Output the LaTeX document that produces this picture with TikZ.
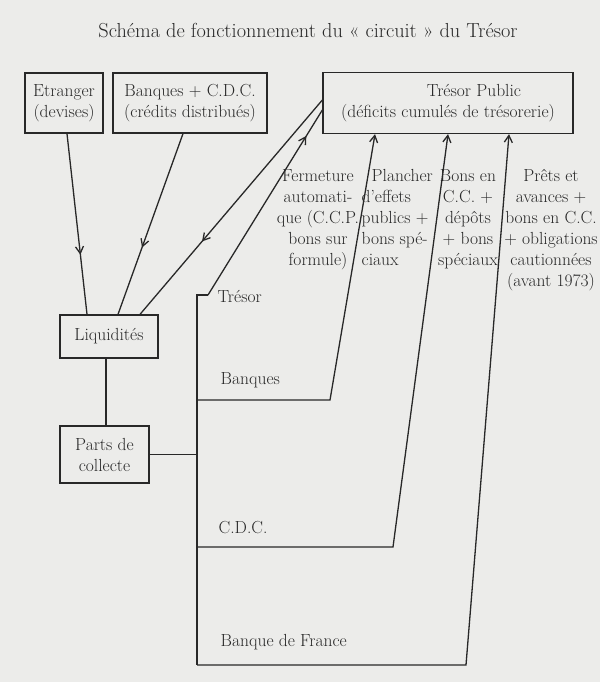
\documentclass[tikz,border=0pt]{standalone}
\usepackage{fontspec}
\usetikzlibrary{arrows.meta,decorations.markings}
\definecolor{paper}{RGB}{236,236,234}
\definecolor{ink}{RGB}{40,40,40}
\newcommand{\bodysz}{\fontsize{17.5}{21}\selectfont}
\newcommand{\titlesz}{\fontsize{20.3}{24}\selectfont}
\begin{document}
\begin{tikzpicture}[x=1pt,y=-1pt,color=ink,line width=1.3pt,
  >={Straight Barb[length=7pt,width=8pt]},
  box/.style={draw,line width=1.3pt,inner sep=0pt,align=center,font=\bodysz},
  lbl/.style={inner sep=0pt,font=\bodysz},
  midarrow/.style={postaction={decorate},decoration={markings,mark=at position #1 with {\arrow{>}}}}]
\fill[paper] (0,0) rectangle (600,682);
\useasboundingbox (0,0) rectangle (600,682);

\node[lbl,font=\titlesz] (title) at (308,31) {Schéma de fonctionnement du «~circuit~» du Trésor};

\node[box,minimum width=78pt,minimum height=60pt] (etr) at (64,103) {Etranger\\(devises)};
\node[box,minimum width=154pt,minimum height=60pt] (ban) at (190,103) {Banques + C.D.C.\\(crédits distribués)};
\node[box,minimum width=250pt,minimum height=61pt] (tp) at (448,103) {\hspace*{52pt}Trésor Public\\(déficits cumulés de trésorerie)};
\node[box,minimum width=98pt,minimum height=43pt] (liq) at (109,336.5) {Liquidités};
\node[box,minimum width=89pt,minimum height=57pt] (parts) at (104.5,454.5) {Parts de\\collecte};

% arrows into Liquidites
\draw[midarrow=0.67] ([xshift=3pt]etr.south) -- ([xshift=-22pt]liq.north);
\draw[midarrow=0.63] ([xshift=-7pt]ban.south) -- ([xshift=9pt]liq.north);
\draw[midarrow=0.66] ([yshift=3pt]tp.west) -- ([xshift=31pt]liq.north);

% vertical spine
\coordinate (tc0) at (197,295);
\coordinate (tc1) at (208,295);
\coordinate (b0) at (197,400);
\coordinate (b1) at (330,400);
\coordinate (c0) at (197,547);
\coordinate (c1) at (393,547);
\coordinate (f0) at (197,665);
\coordinate (f1) at (466,665);

\draw[midarrow=0.86] (tc1) -- ([yshift=-7pt]tp.west);
\draw (tc1) -- (tc0) -- (f0);
\draw[->] (b0) -- (b1) -- ([xshift=-73pt]tp.south);
\draw[->] (c0) -- (c1) -- (tp.south);
\draw[->] (f0) -- (f1) -- ([xshift=61pt]tp.south);

\draw ([xshift=-3pt]liq.south) -- ([xshift=-3pt]liq.south |- parts.north);
\draw (parts.east) -- (parts.east -| tc0);

% labels on spine
\node[lbl,anchor=west] (ltre) at (217,296) {Trésor};
\node[lbl,anchor=west] (lban) at (220,380) {Banques};
\node[lbl,anchor=west] (lcdc) at (218,528) {C.D.C.};
\node[lbl,anchor=west] (lbdf) at (220,642) {Banque de France};

% column texts
\node[lbl,align=center,anchor=north] (col1) at (318,169) {Fermeture\\automati-\\que (C.C.P.\\bons sur\\formule)};
\node[lbl,align=left,anchor=north west] (col2) at (361,169) {\hspace*{10pt}Plancher\\d'effets\\publics +\\bons spé-\\ciaux};
\node[lbl,align=center,anchor=north] (col3) at (468,169) {Bons en\\C.C. +\\dépôts\\+ bons\\spéciaux};
\node[lbl,align=center,anchor=north] (col4) at (551,169) {Prêts et\\avances +\\bons en C.C.\\+ obligations\\cautionnées\\(avant 1973)};
\end{tikzpicture}
\end{document}
